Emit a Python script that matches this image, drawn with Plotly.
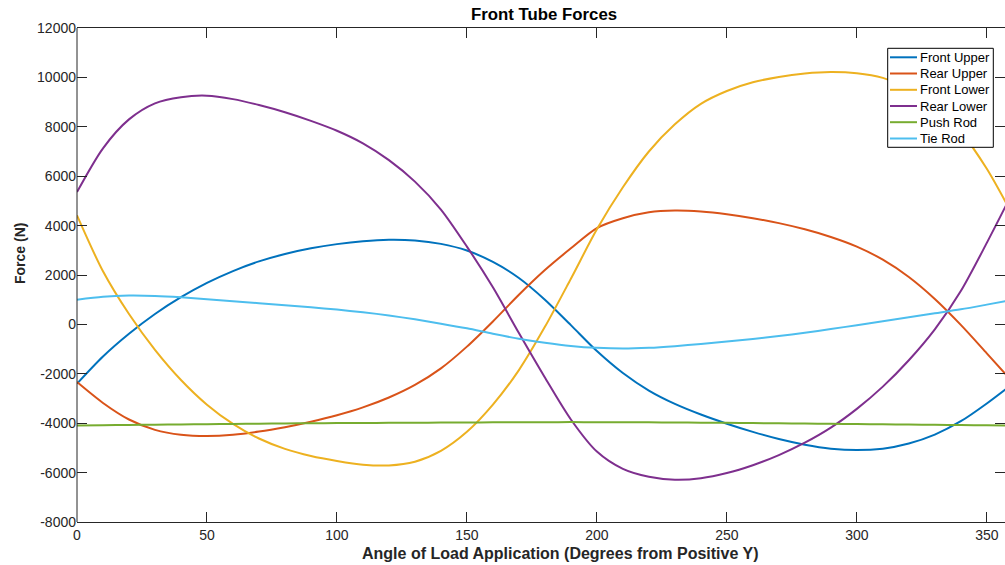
import plotly.graph_objects as go

# ---------------- data ----------------
angles = list(range(0, 361, 10))

front_upper = [-2400, -1300, -380, 420, 1100, 1680, 2160, 2550, 2850, 3080,
               3250, 3370, 3430, 3400, 3260, 2990, 2530, 1880, 1000, -30,
               -1080, -1970, -2680, -3220, -3650, -4020, -4350, -4640, -4870, -5030,
               -5090, -5030, -4820, -4460, -3920, -3200, -2400]

rear_upper = [-2335, -3180, -3850, -4270, -4470, -4520, -4470, -4340, -4160, -3940,
              -3680, -3360, -2960, -2450, -1780, -900, 120, 1200, 2200, 3080,
              3900, 4300, 4540, 4610, 4570, 4460, 4300, 4100, 3850, 3540,
              3150, 2620, 1920, 1030, -20, -1170, -2335]

front_lower = [4415, 2150, 420, -1030, -2250, -3250, -4030, -4620, -5040, -5330,
               -5530, -5680, -5710, -5560, -5120, -4350, -3250, -1850, -100, 1850,
               3850, 5550, 7000, 8100, 8930, 9450, 9800, 10020, 10160, 10220,
               10170, 9980, 9560, 8850, 7800, 6300, 4415]

rear_lower = [5360, 7130, 8300, 8950, 9200, 9260, 9120, 8880, 8590, 8240,
              7840, 7330, 6650, 5780, 4650, 3150, 1500, -350, -2150, -3850,
              -5150, -5850, -6170, -6290, -6230, -6020, -5700, -5290, -4790, -4180,
              -3420, -2520, -1450, -200, 1350, 3300, 5360]

push_rod = [-4090, -4080, -4070, -4060, -4050, -4040, -4030, -4020, -4010, -4000,
            -3995, -3990, -3985, -3980, -3975, -3970, -3965, -3960, -3958, -3956,
            -3958, -3960, -3965, -3970, -3978, -3985, -3995, -4005, -4015, -4025,
            -4035, -4045, -4055, -4065, -4075, -4085, -4090]

tie_rod = [1000, 1120, 1165, 1150, 1095, 1020, 940, 860, 775, 690,
           600, 490, 360, 205, 30, -160, -380, -580, -740, -870,
           -950, -980, -950, -880, -790, -690, -590, -470, -340, -190,
           -30, 130, 290, 450, 610, 800, 1000]

series_names = ["Front Upper", "Rear Upper", "Front Lower", "Rear Lower", "Push Rod", "Tie Rod"]
series_values = [front_upper, rear_upper, front_lower, rear_lower, push_rod, tie_rod]
series_colors = ["#0072BD", "#D95319", "#EDB120", "#7E2F8E", "#77AC30", "#4DBEEE"]

x_ticks = [0, 50, 100, 150, 200, 250, 300, 350]
y_ticks = [-8000, -6000, -4000, -2000, 0, 2000, 4000, 6000, 8000, 10000, 12000]
y_ticktext = [str(v) for v in y_ticks]

title_text = "Front Tube Forces"
x_title = "Angle of Load Application (Degrees from Positive Y)"
y_title = "Force (N)"

# ---------------- layout geometry (screen pixels) ----------------
W, H = 1005, 565
L, R, T, B = 77, 1005, 28, 522          # plot area
FONT = "Liberation Sans, Arial, Helvetica, sans-serif"
AX = "#262626"


def px_x(p):
    """pixel x -> paper x"""
    return (p - L) / (R - L)


def px_y(p):
    """pixel y -> paper y"""
    return (B - p) / (B - T)


fig = go.Figure()
for name, vals, color in zip(series_names, series_values, series_colors):
    fig.add_trace(go.Scatter(
        x=angles, y=vals, mode="lines", name=name, showlegend=False,
        line=dict(color=color, width=2, shape="spline", smoothing=0.8),
        hoverinfo="skip",
    ))

shapes = []
# left axis line
shapes.append(dict(type="line", xref="paper", yref="paper", x0=0, x1=0, y0=0, y1=1,
                   line=dict(color=AX, width=1), layer="above"))

# manual legend (MATLAB style)
lg_x0, lg_x1, lg_y0, lg_y1 = 887.7, 993.3, 48.3, 147.3
shapes.append(dict(type="rect", xref="paper", yref="paper",
                   x0=px_x(lg_x0), x1=px_x(lg_x1), y0=px_y(lg_y1), y1=px_y(lg_y0),
                   line=dict(color="#000000", width=1), fillcolor="white", layer="above"))
row_y = [57.3, 73.5, 89.8, 106.0, 122.2, 138.5]
annotations = []
for name, color, ry in zip(series_names, series_colors, row_y):
    shapes.append(dict(type="line", xref="paper", yref="paper",
                       x0=px_x(890), x1=px_x(917), y0=px_y(ry), y1=px_y(ry),
                       line=dict(color=color, width=2), layer="above"))
    annotations.append(dict(text=name, xref="paper", yref="paper", x=px_x(918),
                            y=px_y(ry), xanchor="left", yanchor="middle", showarrow=False,
                            font=dict(family=FONT, size=13, color="#000000")))

# axis titles and chart title
annotations.append(dict(text="<b>" + x_title + "</b>", xref="paper", yref="paper",
                        x=px_x(560), y=px_y(553), xanchor="center", yanchor="middle",
                        showarrow=False, font=dict(family=FONT, size=16, color=AX)))
annotations.append(dict(text="<b>" + y_title + "</b>", xref="paper", yref="paper",
                        x=px_x(20), y=px_y(254), xanchor="center", yanchor="middle",
                        textangle=-90, showarrow=False,
                        font=dict(family=FONT, size=14, color=AX)))
annotations.append(dict(text="<b>" + title_text + "</b>", xref="paper", yref="paper",
                        x=px_x(544), y=px_y(15), xanchor="center", yanchor="middle",
                        showarrow=False, font=dict(family=FONT, size=16.8, color="#000000")))

fig.update_layout(
    width=W, height=H,
    margin=dict(l=L, r=W - R, t=T, b=H - B, pad=0),
    paper_bgcolor="white", plot_bgcolor="white",
    showlegend=False,
    shapes=shapes,
    annotations=annotations,
    xaxis=dict(range=[0, 357], tickvals=x_ticks, ticks="inside", ticklen=10,
               tickwidth=1, tickcolor=AX, showline=True, linecolor=AX, linewidth=1,
               mirror="ticks", showgrid=False, zeroline=False,
               tickfont=dict(family=FONT, size=14, color=AX)),
    yaxis=dict(range=[-8000, 12000], tickvals=y_ticks, ticktext=y_ticktext,
               ticks="inside", ticklen=10, tickwidth=1, tickcolor=AX,
               showline=False, mirror="ticks", showgrid=False, zeroline=False,
               tickfont=dict(family=FONT, size=14, color=AX)),
)

# remove the default 8px page margin so the figure fills the window exactly
fig.write_html("out.html",
               config={"displayModeBar": False, "staticPlot": True},
               post_script="document.body.style.margin='0px';document.body.style.overflow='hidden';")
